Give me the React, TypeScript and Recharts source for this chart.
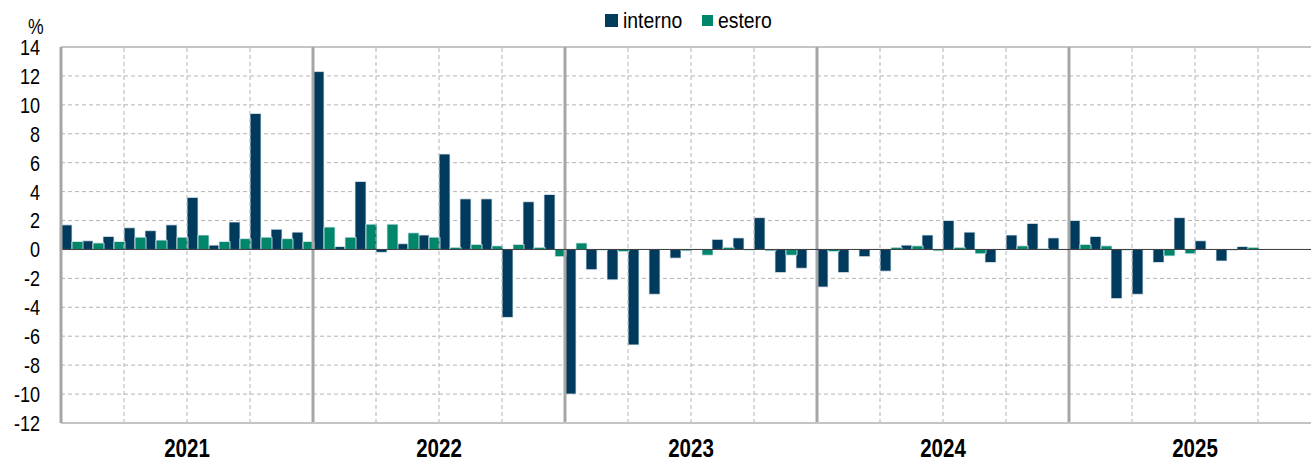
import React from "react";
import { BarChart, Bar, XAxis, YAxis, CartesianGrid, ReferenceLine, Legend } from "recharts";

const years = ["2021", "2022", "2023", "2024", "2025"];
const months = ["01", "02", "03", "04", "05", "06", "07", "08", "09", "10", "11", "12"];

// variazioni % (lettura dal grafico)
const interno2021 = [1.7, 0.6, 0.9, 1.5, 1.3, 1.7, 3.6, 0.3, 1.9, 9.4, 1.4, 1.2];
const interno2022 = [12.3, 0.2, 4.7, -0.2, 0.4, 1.0, 6.6, 3.5, 3.5, -4.7, 3.3, 3.8];
const interno2023 = [-10.0, -1.4, -2.1, -6.6, -3.1, -0.6, 0.0, 0.7, 0.8, 2.2, -1.6, -1.3];
const interno2024 = [-2.6, -1.6, -0.5, -1.5, 0.3, 1.0, 2.0, 1.2, -0.9, 1.0, 1.8, 0.8];
const interno2025 = [2.0, 0.9, -3.4, -3.1, -0.9, 2.2, 0.6, -0.8, 0.2, null, null, null];

const estero2021 = [0.55, 0.45, 0.55, 0.85, 0.65, 0.85, 1.0, 0.55, 0.75, 0.85, 0.75, 0.55];
const estero2022 = [1.55, 0.85, 1.75, 1.75, 1.15, 0.85, 0.15, 0.35, 0.25, 0.35, 0.15, -0.5];
const estero2023 = [0.45, -0.05, -0.15, 0.0, 0.0, -0.1, -0.4, 0.15, -0.05, -0.1, -0.4, 0.0];
const estero2024 = [-0.15, 0.0, 0.0, 0.15, 0.25, -0.1, 0.15, -0.3, 0.0, 0.25, 0.05, 0.0];
const estero2025 = [0.35, 0.25, -0.05, 0.0, -0.45, -0.3, 0.0, -0.05, 0.15, null, null, null];

const interno = [interno2021, interno2022, interno2023, interno2024, interno2025];
const estero = [estero2021, estero2022, estero2023, estero2024, estero2025];

const yTicks = [-12, -10, -8, -6, -4, -2, 0, 2, 4, 6, 8, 10, 12, 14];

const data = years.flatMap((y, yi) =>
  months.map((m, mi) => ({
    cat: `${y}-${m}`,
    interno: interno[yi][mi],
    estero: estero[yi][mi],
  }))
);
const cats = data.map((d) => d.cat);
const quarterStarts = cats.filter((c, i) => i % 3 === 0 && i % 12 !== 0);
const yearStarts = cats.filter((c, i) => i % 12 === 0 && i > 0);

const FONT = '"Liberation Sans", Arial, sans-serif';
const NAVY = "#003A5C";
const GREEN = "#00866A";
const GRID = "#b4b4b4";
const AXIS = "#a6a6a6";

const W = 1330;
const H = 459;
const LEFT = 61;
const RIGHT = 1321;
const BAND = (RIGHT - LEFT) / cats.length;

function YearTick(props: any) {
  const { x, y, payload } = props;
  const v = String(payload.value);
  if (!v.endsWith("-07")) return <g />;
  return (
    <g transform={`translate(${x - BAND / 2},${y + 32})`}>
      <text transform="scale(0.79,1)" textAnchor="middle" fontFamily={FONT} fontSize={26} fontWeight="bold" fill="#000">
        {v.slice(0, 4)}
      </text>
    </g>
  );
}

function ValueTick(props: any) {
  const { x, y, payload } = props;
  return (
    <g transform={`translate(${x},${y})`}>
      <text transform="scale(0.82,1)" textAnchor="end" dy="0.36em" fontFamily={FONT} fontSize={22} fill="#000">
        {payload.value}
      </text>
    </g>
  );
}

const narrow = (s: number): React.CSSProperties => ({
  position: "absolute",
  transform: `scaleX(${s})`,
  transformOrigin: "left center",
  whiteSpace: "nowrap",
  lineHeight: "normal",
});

function LegendBox() {
  return (
    <div style={{ position: "relative", height: 30, fontFamily: FONT, fontSize: 22, color: "#000" }}>
      <span style={{ position: "absolute", left: 605, top: 9, width: 13, height: 13, background: NAVY }} />
      <span style={{ ...narrow(0.88), left: 623, top: 3 }}>interno</span>
      <span style={{ position: "absolute", left: 702, top: 10, width: 11, height: 11, background: GREEN }} />
      <span style={{ ...narrow(0.88), left: 718, top: 3 }}>estero</span>
    </div>
  );
}

export default function App() {
  return (
    <div style={{ position: "absolute", left: 0, top: 0, width: 1311, height: H, overflow: "hidden", background: "#fff" }}>
      <span style={{ ...narrow(0.8), left: 28, top: 20, lineHeight: "14px", fontFamily: FONT, fontSize: 22, color: "#000" }}>%</span>
      <BarChart
        width={W}
        height={H}
        data={data}
        margin={{ top: 17, right: W - RIGHT, bottom: 0, left: 0 }}
        barCategoryGap={0}
        barGap={0}
      >
        <Legend verticalAlign="top" content={() => <LegendBox />} wrapperStyle={{ left: 0, top: 5, width: W }} />
        <CartesianGrid vertical={false} stroke={GRID} strokeDasharray="4 3" />
        <XAxis
          dataKey="cat"
          interval={0}
          tickLine={false}
          tickSize={0}
          height={36}
          axisLine={{ stroke: "#c4c4c4", strokeWidth: 2 }}
          tick={<YearTick />}
        />
        <YAxis
          domain={[-12, 14]}
          ticks={yTicks}
          interval={0}
          width={LEFT}
          tickLine={false}
          tickSize={0}
          tickMargin={21}
          axisLine={{ stroke: AXIS, strokeWidth: 3 }}
          tick={<ValueTick />}
        />
        <ReferenceLine y={14} stroke="#c4c4c4" strokeWidth={2} />
        {quarterStarts.map((c) => (
          <ReferenceLine key={c} x={c} position="start" stroke={GRID} strokeDasharray="4 3" />
        ))}
        {yearStarts.map((c) => (
          <ReferenceLine key={c} x={c} position="start" stroke={AXIS} strokeWidth={3} />
        ))}
        <Bar dataKey="interno" name="interno" fill={NAVY} stroke="#e6edf2" strokeWidth={0.8} isAnimationActive={false} />
        <Bar dataKey="estero" name="estero" fill={GREEN} stroke="#e6edf2" strokeWidth={0.8} isAnimationActive={false} />
        <ReferenceLine y={0} stroke="#3a3a3a" strokeWidth={1} />
      </BarChart>
    </div>
  );
}
